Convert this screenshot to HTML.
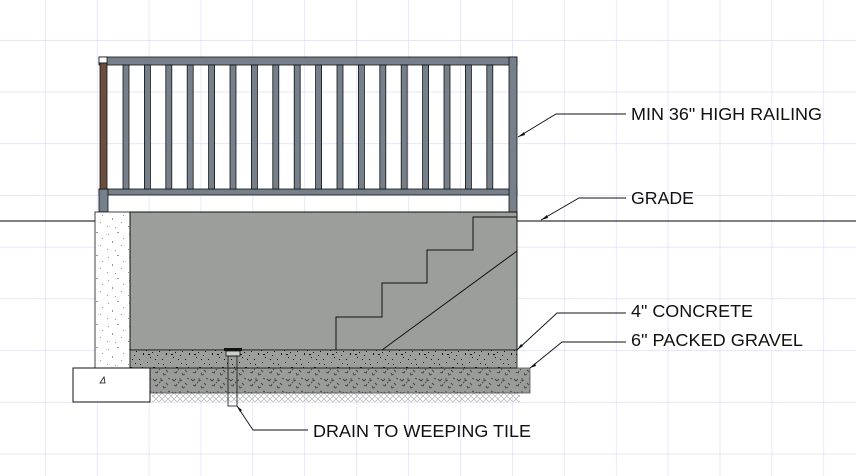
<!DOCTYPE html>
<html><head><meta charset="utf-8"><style>html,body{margin:0;padding:0;background:#fff}svg{display:block}text{font-family:"Liberation Sans",sans-serif;font-size:17.5px;fill:#111}</style></head><body>
<svg width="856" height="476" viewBox="0 0 856 476" xmlns="http://www.w3.org/2000/svg">
<defs>
<pattern id="grid" x="45" y="40" width="51.9" height="51.7" patternUnits="userSpaceOnUse">
<path d="M0 0H52M0 0V52" stroke="#d8d8f6" stroke-width="1.2" fill="none"/></pattern>
<pattern id="conc" width="23" height="19" patternUnits="userSpaceOnUse">
<rect width="23" height="19" fill="#9c9e9b"/>
<g fill="#111"><rect x="2" y="3" width="1" height="1"/><rect x="9" y="1" width="1" height="1"/><rect x="15" y="6" width="2" height="1"/><rect x="5" y="11" width="1" height="2"/><rect x="19" y="13" width="1" height="1"/><rect x="12" y="15" width="1" height="1"/><rect x="1" y="17" width="1" height="1"/><rect x="20" y="2" width="1" height="1"/><rect x="8" y="8" width="1" height="1"/><rect x="14" y="10" width="1" height="1"/><rect x="4" y="6" width="1" height="1"/><rect x="17" y="17" width="1" height="1"/><rect x="10" y="12" width="2" height="1"/><rect x="21" y="9" width="1" height="1"/></g></pattern>
<pattern id="grav" width="19" height="13" patternUnits="userSpaceOnUse">
<rect width="19" height="13" fill="#9a9c99"/>
<g fill="none" stroke="#444" stroke-width="0.9"><path d="M1 2l2 2 2-2M9 1v3l2-1M14 6l2 2M3 8l2 1 1-2M11 9l1 2 2-1M16 1l2 1M7 5l1 1"/></g></pattern>
<pattern id="hatch" width="6" height="6" patternUnits="userSpaceOnUse">
<path d="M0 3l3-3 3 3-3 3z" fill="none" stroke="#bbb" stroke-width="0.8"/></pattern>
<pattern id="wall" width="21" height="23" patternUnits="userSpaceOnUse">
<rect width="21" height="23" fill="#fff"/>
<g fill="#999"><rect x="3" y="4" width="1" height="1"/><rect x="12" y="2" width="2" height="1"/><rect x="7" y="11" width="1" height="2"/><rect x="16" y="15" width="1" height="1"/><rect x="2" y="19" width="1" height="1"/><rect x="18" y="8" width="1" height="1"/><rect x="10" y="20" width="1" height="1"/></g></pattern>
</defs>
<rect width="856" height="476" fill="url(#grid)"/>
<line x1="0" y1="221" x2="856" y2="221" stroke="#000" stroke-width="1"/>
<g fill="#76808a" stroke="#111" stroke-width="0.8">
<rect x="99" y="57" width="418" height="8"/>
<rect x="99" y="189" width="418" height="6"/>
<rect x="509" y="57" width="8" height="155"/>
<rect x="99" y="189" width="9" height="23"/>
</g>
<rect x="99" y="57" width="8" height="6" fill="#fff" stroke="#111" stroke-width="0.8"/>
<rect x="100" y="63" width="7" height="126" fill="#6b4f3e" stroke="#111" stroke-width="0.8"/>
<g fill="#76808a" stroke="#111" stroke-width="0.8">
<rect x="123" y="65" width="6" height="124"/><rect x="144.4" y="65" width="6" height="124"/><rect x="165.8" y="65" width="6" height="124"/><rect x="187.2" y="65" width="6" height="124"/><rect x="208.6" y="65" width="6" height="124"/><rect x="230" y="65" width="6" height="124"/><rect x="251.4" y="65" width="6" height="124"/><rect x="272.8" y="65" width="6" height="124"/><rect x="294.2" y="65" width="6" height="124"/><rect x="315.6" y="65" width="6" height="124"/><rect x="337" y="65" width="6" height="124"/><rect x="358.4" y="65" width="6" height="124"/><rect x="379.8" y="65" width="6" height="124"/><rect x="401.2" y="65" width="6" height="124"/><rect x="422.6" y="65" width="6" height="124"/><rect x="444" y="65" width="6" height="124"/><rect x="465.4" y="65" width="6" height="124"/><rect x="486.8" y="65" width="6" height="124"/>
</g>
<rect x="95" y="212" width="35" height="156" fill="url(#wall)" stroke="#111" stroke-width="0.8"/>
<rect x="130" y="212" width="387" height="138" fill="#9c9e9b" stroke="#111" stroke-width="1"/>
<path d="M517 217H473V250H427V283H382V317H336V350M382 350L517 251" fill="none" stroke="#111" stroke-width="1"/>
<rect x="152" y="393" width="368" height="9" fill="url(#hatch)"/>
<rect x="150" y="368" width="380" height="25" fill="url(#grav)" stroke="#555" stroke-width="0.8"/>
<rect x="130" y="350" width="387" height="18" fill="url(#conc)" stroke="#111" stroke-width="0.8"/>
<rect x="73" y="368" width="77" height="34" fill="#fff" stroke="#111" stroke-width="1"/>
<path d="M104 377l-4 6h5z" fill="none" stroke="#111" stroke-width="0.8"/>
<rect x="224" y="348" width="18" height="3" fill="#111"/>
<rect x="226" y="351" width="14" height="5" fill="#ccc" stroke="#111" stroke-width="0.8"/>
<rect x="228" y="356" width="9" height="50" fill="none" stroke="#111" stroke-width="0.8"/>
<g fill="none" stroke="#111" stroke-width="0.9">
<path d="M518 137L556 114H626"/><path d="M541 220L579 198H626"/>
<path d="M517 350L557 313H626"/><path d="M530 368L562 342H626"/>
<path d="M237 406L253 430H308"/>
</g>
<g fill="#111">
<path d="M518 137l6-5 1 3z"/><path d="M541 220l6-5 1 3z"/><path d="M517 350l4-6 2 2z"/><path d="M530 368l5-5 1 3z"/><path d="M237 406l5 4-2 2z"/>
</g>
<text x="631" y="120" textLength="191" lengthAdjust="spacingAndGlyphs">MIN 36" HIGH RAILING</text>
<text x="631" y="204" textLength="63" lengthAdjust="spacingAndGlyphs">GRADE</text>
<text x="631" y="317" textLength="122" lengthAdjust="spacingAndGlyphs">4" CONCRETE</text>
<text x="631" y="346" textLength="172" lengthAdjust="spacingAndGlyphs">6" PACKED GRAVEL</text>
<text x="313" y="437" textLength="218" lengthAdjust="spacingAndGlyphs">DRAIN TO WEEPING TILE</text>
</svg>
</body></html>
